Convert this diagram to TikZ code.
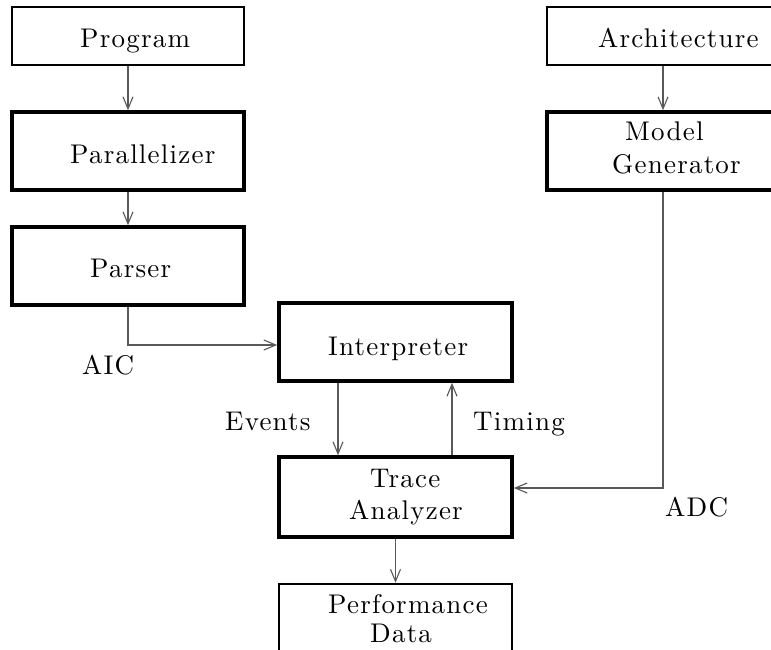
\documentclass[tikz,border=0pt]{standalone}
\usepackage{fontspec}
\usetikzlibrary{arrows.meta}
\newfontfamily\lsfont{lmroman10-regular.otf}[LetterSpace=4.5]
\begin{document}
\begin{tikzpicture}[x=1pt,y=-1pt,
  box/.style={draw=black,line width=2pt,minimum width=232pt,minimum height=58pt,inner sep=0pt},
  thickbox/.style={box,line width=3.6pt,minimum height=78pt},
  txt/.style={anchor=base west,inner sep=0pt,font=\lsfont\fontsize{27}{32}\selectfont},
  conn/.style={draw=black!65,line width=1.1pt,-{Straight Barb[length=12pt,width=10pt,line width=1.1pt]}}]
\useasboundingbox (0,0) rectangle (771,649);
\clip (0,0) rectangle (771,649);
% boxes
\node[box] (prog) at (128,36) {};
\node[thickbox] (par) at (128,151) {};
\node[thickbox] (parser) at (128,266) {};
\node[box] (arch) at (663,36) {};
\node[thickbox] (mg) at (663,151) {};
\node[thickbox,minimum width=233pt] (interp) at (395.5,342) {};
\node[thickbox,minimum width=233pt,minimum height=80pt] (trace) at (395.5,497) {};
\node[box,minimum width=233pt,minimum height=82pt,line width=2.6pt] (perf) at (395.5,625) {};
% texts
\node[txt] (tprog) at (80,47) {Program};
\node[txt] (tpar) at (70,163) {Parallelizer};
\node[txt] (tparser) at (90,277) {Parser};
\node[txt] (tarch) at (598,47) {Architecture};
\node[txt] (tmodel) at (625,140) {Model};
\node[txt] (tgen) at (612,173) {Generator};
\node[txt] (tint) at (328,355) {Interpreter};
\node[txt] (ttrace) at (370,487) {Trace};
\node[txt] (tana) at (349,519) {Analyzer};
\node[txt] (tperf) at (328,613) {Performance};
\node[txt] (tdata) at (370,642) {Data};
\node[txt] (aic) at (82,374) {AIC};
\node[txt] (adc) at (665,516) {ADC};
\node[txt] (events) at (225,430) {Events};
\node[txt] (timing) at (473,430) {Timing};
% connectors
\draw[conn] (prog.south) -- (par.north);
\draw[conn] (par.south) -- (parser.north);
\draw[conn] (arch.south) -- (mg.north);
\draw[conn] (parser.south) |- ([yshift=-3pt]interp.west);
\draw[conn] ([xshift=-57.5pt]interp.south) -- ([xshift=-57.5pt]trace.north);
\draw[conn] ([xshift=56.5pt]trace.north) -- ([xshift=56.5pt]interp.south);
\draw[conn] (mg.south) |- ([yshift=9pt]trace.east);
\draw[conn] (trace.south) -- (perf.north);
\end{tikzpicture}
\end{document}
